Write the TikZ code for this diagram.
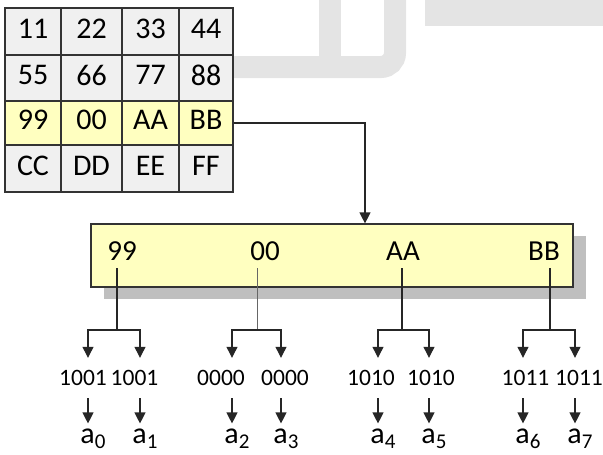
\documentclass[tikz,border=0pt]{standalone}
\usepackage{fontspec}
\setmainfont{Carlito}
\usetikzlibrary{arrows.meta,positioning,calc,shadows}
\definecolor{halvany}{HTML}{FFFFC0}
\definecolor{szurke}{HTML}{F0F0F0}
\definecolor{arnyek}{HTML}{BFBFBF}
\definecolor{vizjel}{HTML}{E4E4E4}
\newcommand{\ai}[1]{a\raisebox{-5pt}{\fontsize{21}{21}\selectfont #1}}
\tikzset{
  cella/.style={draw=black!80,line width=1.2pt,fill=szurke,inner sep=0pt,text depth=6pt,
    font=\fontsize{30}{30}\selectfont},
  kiemelt/.style={cella,fill=halvany},
  keret/.style={draw=black!80,line width=1.2pt,fill=halvany,
    drop shadow={shadow xshift=13pt,shadow yshift=-12pt,fill=arnyek,opacity=1}},
  hexa/.style={font=\fontsize{29}{29}\selectfont,inner sep=7pt},
  bitek/.style={font=\fontsize{23.5}{23.5}\selectfont,inner sep=0pt,minimum height=40pt},
  betu/.style={font=\fontsize{30}{30}\selectfont,inner sep=0pt,outer ysep=5pt,anchor=base},
  ag/.style={draw=black!85,line width=1.2pt},
  hegy/.style={ag,-{Triangle[length=11pt,width=11pt]}},
  vizjelcsik/.style={draw=vizjel,line width=22pt},
}

\begin{document}
\begin{tikzpicture}[x=1pt,y=-1pt]
  \useasboundingbox (0,0) rectangle (603,455);
  % faint background marks
  \draw[vizjelcsik,rounded corners=14pt] (200,67) -- (395,67) -- (395,-15);
  \draw[vizjelcsik] (330,67) -- (330,-15);
  \fill[vizjel] (425,-5) rectangle (610,26);
  % memory table
  \foreach \ya/\yb/\pa/\pb/\pc/\pd/\st [count=\i] in
    {8/55/11/22/33/44/cella, 55/101/55/66/77/88/cella,
     101/145/99/00/AA/BB/kiemelt, 145/192/CC/DD/EE/FF/cella}{
    \node[\st,minimum width=56pt,minimum height={(\yb-\ya)*1pt}] (c\i1) at (33,{(\ya+\yb)/2}) {\pa};
    \node[\st,minimum width=61pt,minimum height={(\yb-\ya)*1pt}] (c\i2) at (91.5,{(\ya+\yb)/2}) {\pb};
    \node[\st,minimum width=57pt,minimum height={(\yb-\ya)*1pt}] (c\i3) at (150.5,{(\ya+\yb)/2}) {\pc};
    \node[\st,minimum width=54pt,minimum height={(\yb-\ya)*1pt}] (c\i4) at (206,{(\ya+\yb)/2}) {\pd};
  }
  % the selected row, spread out
  \node[keret,minimum width=482pt,minimum height=63pt] (doboz) at (332,255.5) {};
  \draw[hegy] (c34.east) -| ([xshift=33pt]doboz.north);
  \foreach \x/\t [count=\i from 0] in {122/99,265/00,403/AA,544/BB}
    \node[hexa] (h\i) at (\x,251.5) {\t};
  \foreach \x [count=\i from 0] in {117,257,402,550}
    \coordinate (j\i) at (\x,330);
  \draw[ag] (h0.south -| j0) -- (j0);
  \draw[ag,line width=0.8pt,black!60] (h1.south -| j1) -- (j1);
  \draw[ag] (h2.south -| j2) -- (j2);
  \draw[ag] (h3.south -| j3) -- (j3);
  % nibbles and outputs
  \foreach \x/\t [count=\i from 0] in
    {83/1001,134.5/1001,221/0000,285/0000,371/1010,431/1010,525.5/1011,579/1011}
    \node[bitek] (b\i) at (\x,378) {\t};
  \foreach \x [count=\i from 0] in {88,140,232,281,378,429,523,575}{
    \node[betu] (a\i) at (\x+5,443) {\ai{\i}};
    \coordinate (t\i) at ([xshift=-5pt]a\i.north);
  }
  \foreach \j/\l/\r in {0/0/1,1/2/3,2/4/5,3/6/7}{
    \draw[hegy] (j\j) -| (b\l.north -| t\l);
    \draw[hegy] (j\j) -| (b\r.north -| t\r);
  }
  \foreach \i in {0,...,7}
    \draw[hegy] (b\i.south -| t\i) -- (t\i);
\end{tikzpicture}
\end{document}
